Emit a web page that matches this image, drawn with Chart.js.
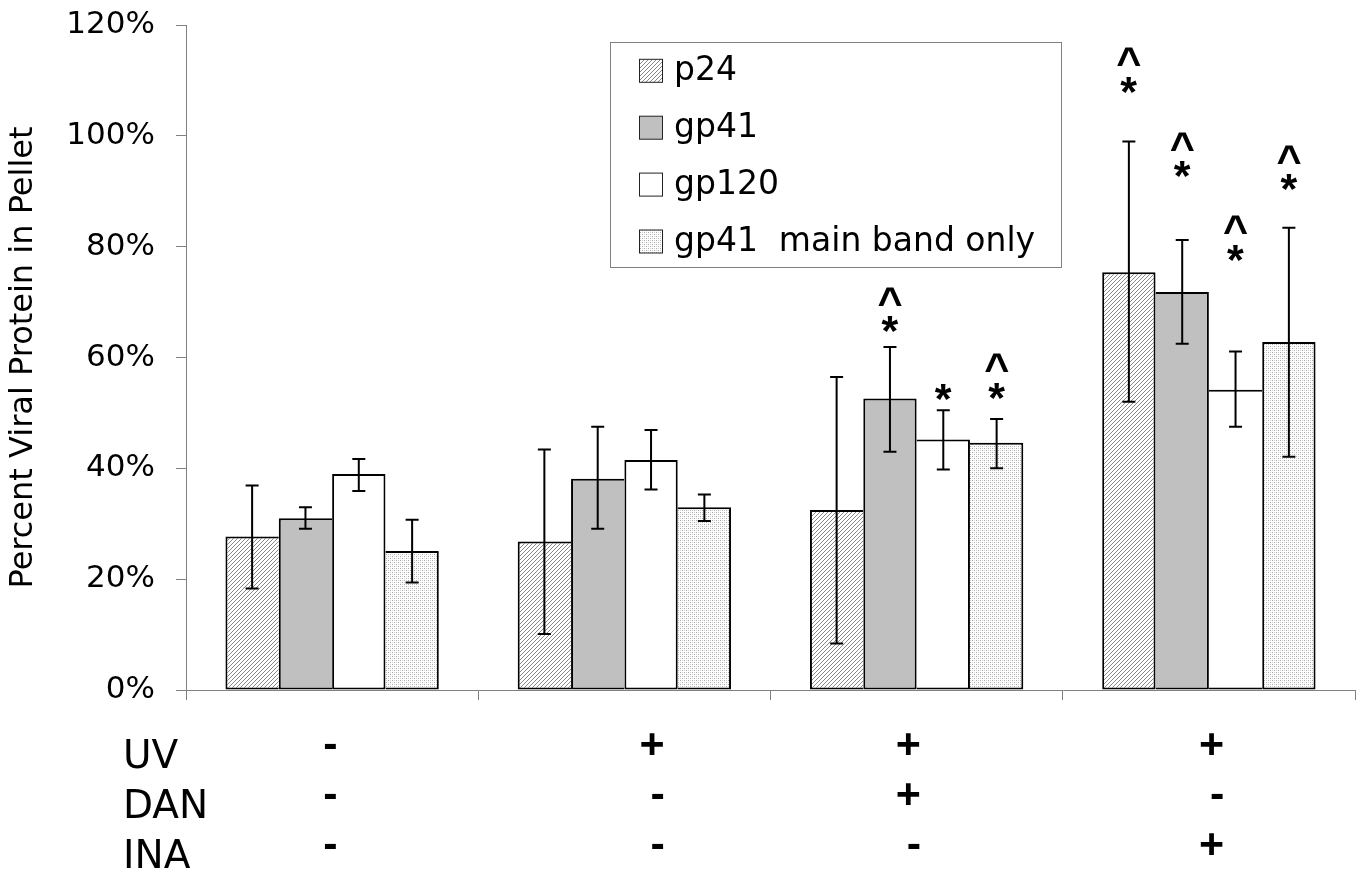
<!DOCTYPE html>
<html lang="en">
<head>
<meta charset="UTF-8">
<title>Percent Viral Protein in Pellet</title>
<script src="https://cdn.jsdelivr.net/npm/chart.js"></script>
<style>
  body { margin: 0; background: #fff; }
  #wrap { width: 1361px; height: 875px; }
</style>
</head>
<body>
<div id="wrap"><canvas id="chart" width="1361" height="875"></canvas></div>
<script>
// four treatment conditions (see the UV / DAN / INA table under the axis)
const conditions = ['UV- DAN- INA-', 'UV+ DAN- INA-', 'UV+ DAN+ INA-', 'UV+ DAN- INA+'];
const seriesNames = ['p24', 'gp41', 'gp120', 'gp41  main band only'];

// percent of viral protein found in pellet, with error bar ends
const p24      = [27.7, 26.8, 32.5, 75.4];
const p24Lo    = [18.3, 10.1,  8.4, 52.0];
const p24Hi    = [36.9, 43.4, 56.5, 99.0];
const gp41     = [31.0, 38.1, 52.6, 71.8];
const gp41Lo   = [29.1, 29.1, 43.0, 62.5];
const gp41Hi   = [33.0, 47.5, 61.9, 81.2];
const gp120    = [39.0, 41.5, 45.2, 54.2];
const gp120Lo  = [35.9, 36.2, 39.8, 47.5];
const gp120Hi  = [41.7, 46.9, 50.5, 61.1];
const gp41m    = [25.1, 33.0, 44.6, 62.8];
const gp41mLo  = [19.4, 30.5, 40.0, 42.1];
const gp41mHi  = [30.7, 35.3, 48.9, 83.4];

// significance marks and the level (%) where the * sits
const p24Mark    = ['', '', '', '^*'];
const p24MarkAt  = [null, null, null, 109.2];
const gp41Mark   = ['', '', '^*', '^*'];
const gp41MarkAt = [null, null, 66.0, 94.0];
const gp120Mark  = ['', '', '*', '^*'];
const gp120MarkAt = [null, null, 53.7, 78.9];
const gp41mMark  = ['', '', '^*', '^*'];
const gp41mMarkAt = [null, null, 54.0, 91.6];

// condition table
const rowNames = ['UV', 'DAN', 'INA'];
const uvSigns  = ['-', '+', '+', '+'];
const danSigns = ['-', '-', '+', '-'];
const inaSigns = ['-', '-', '-', '+'];

const yTicks = [0, 20, 40, 60, 80, 100, 120];

// ---- fill patterns ----
function hatchPattern() {
    const c = document.createElement('canvas');
    c.width = 4; c.height = 4;
    const g = c.getContext('2d');
    g.fillStyle = '#fff';
    g.fillRect(0, 0, 4, 4);
    g.strokeStyle = '#7c7c7c';
    g.lineWidth = 0.9;
    g.beginPath();
    g.moveTo(-1, 5); g.lineTo(5, -1);
    g.moveTo(-1, 1); g.lineTo(1, -1);
    g.moveTo(3, 5); g.lineTo(5, 3);
    g.stroke();
    return g.createPattern(c, 'repeat');
}
function dotPattern() {
    const c = document.createElement('canvas');
    c.width = 4; c.height = 4;
    const g = c.getContext('2d');
    g.fillStyle = '#fff';
    g.fillRect(0, 0, 4, 4);
    g.fillStyle = '#a8a8a8';
    g.fillRect(0, 0, 1, 1); g.fillRect(2, 2, 1, 1);
    g.fillStyle = '#d6d6d6';
    g.fillRect(2, 0, 1, 1); g.fillRect(0, 2, 1, 1);
    return g.createPattern(c, 'repeat');
}

const fills = [hatchPattern(), '#c0c0c0', '#ffffff', dotPattern()];
const values = [p24, gp41, gp120, gp41m];
const lows = [p24Lo, gp41Lo, gp120Lo, gp41mLo];
const highs = [p24Hi, gp41Hi, gp120Hi, gp41mHi];
const marks = [p24Mark, gp41Mark, gp120Mark, gp41mMark];
const markAt = [p24MarkAt, gp41MarkAt, gp120MarkAt, gp41mMarkAt];

const FONT = 'DejaVu Sans';
const SYM = 'bold 43px "Liberation Sans"';

// the taller of two touching bars draws the shared edge, so it stays 2px
function edgeWidths(c) {
    const d = c.datasetIndex, i = c.dataIndex, v = values[d][i];
    const n = values.length;
    return {
        top: 2, bottom: 2,
        left: (d === 0 || v > values[d - 1][i]) ? 2 : 0,
        right: (d === n - 1 || v >= values[d + 1][i]) ? 2 : 0
    };
}

// draws glyph with its visible box centred on (x, y)
function centreGlyph(ctx, s, x, y) {
    const m = ctx.measureText(s);
    const w = m.actualBoundingBoxRight + m.actualBoundingBoxLeft;
    ctx.fillText(s, x - w / 2 + m.actualBoundingBoxLeft,
        y + (m.actualBoundingBoxAscent - m.actualBoundingBoxDescent) / 2);
}

const errorBars = {
    id: 'errorBars',
    afterDatasetsDraw(chart) {
        const ctx = chart.ctx, ys = chart.scales.y;
        ctx.save();
        ctx.strokeStyle = '#000';
        ctx.lineWidth = 2;
        chart.data.datasets.forEach((ds, d) => {
            chart.getDatasetMeta(d).data.forEach((bar, i) => {
                const yl = ys.getPixelForValue(lows[d][i]);
                const yh = ys.getPixelForValue(highs[d][i]);
                ctx.beginPath();
                ctx.moveTo(bar.x, yl); ctx.lineTo(bar.x, yh);
                ctx.moveTo(bar.x - 6.5, yl); ctx.lineTo(bar.x + 6.5, yl);
                ctx.moveTo(bar.x - 6.5, yh); ctx.lineTo(bar.x + 6.5, yh);
                ctx.stroke();
            });
        });
        ctx.restore();
    }
};

const sigMarks = {
    id: 'sigMarks',
    afterDatasetsDraw(chart) {
        const ctx = chart.ctx, ys = chart.scales.y;
        ctx.save();
        ctx.fillStyle = '#000';
        ctx.font = SYM;
        chart.data.datasets.forEach((ds, d) => {
            chart.getDatasetMeta(d).data.forEach((bar, i) => {
                const m = marks[d][i];
                if (!m) return;
                const y = ys.getPixelForValue(markAt[d][i]);
                centreGlyph(ctx, '*', bar.x, y);
                if (m.indexOf('^') >= 0) centreGlyph(ctx, '^', bar.x, y - 28);
            });
        });
        ctx.restore();
    }
};

const boxLegend = {
    id: 'boxLegend',
    afterDraw(chart) {
        const ctx = chart.ctx;
        const left = 610.5, top = 42.5, w = 451, h = 225;
        ctx.save();
        ctx.fillStyle = '#fff';
        ctx.fillRect(left, top, w, h);
        ctx.strokeStyle = '#808080';
        ctx.lineWidth = 1;
        ctx.strokeRect(left, top, w, h);
        ctx.font = '33px "' + FONT + '"';
        ctx.textBaseline = 'middle';
        chart.data.datasets.forEach((ds, k) => {
            const cy = top + 28.3 + k * 56.9;
            ctx.fillStyle = ds.backgroundColor;
            ctx.fillRect(639.5, cy - 11.5, 23, 23);
            ctx.strokeStyle = '#222';
            ctx.strokeRect(639.5, cy - 11.5, 23, 23);
            ctx.fillStyle = '#000';
            ctx.fillText(ds.label, 674, cy + 1);
        });
        ctx.restore();
    }
};

const conditionTable = {
    id: 'conditionTable',
    afterDraw(chart) {
        const ctx = chart.ctx, xs = chart.scales.x;
        const rowY = [744, 794, 844];
        const signs = [uvSigns, danSigns, inaSigns];
        const nudge = [4, 39, 3, 14];   // right edge of the signs, from the group centre
        ctx.save();
        ctx.fillStyle = '#000';
        ctx.font = '39px "' + FONT + '"';
        ctx.textBaseline = 'middle';
        rowNames.forEach((r, k) => ctx.fillText(r, 123, rowY[k] + 14));
        ctx.font = SYM;
        ctx.textBaseline = 'alphabetic';
        const pm = ctx.measureText('+');
        const lift = (pm.actualBoundingBoxAscent - pm.actualBoundingBoxDescent) / 2;
        signs.forEach((row, k) => {
            row.forEach((s, i) => {
                const m = ctx.measureText(s);
                const right = xs.getPixelForValue(i) + nudge[i];
                ctx.fillText(s, right - m.actualBoundingBoxRight, rowY[k] + lift);
            });
        });
        ctx.restore();
    }
};

const ctx = document.getElementById('chart').getContext('2d');
new Chart(ctx, {
    type: 'bar',
    data: {
        labels: conditions,
        datasets: seriesNames.map((name, k) => ({
            label: name,
            data: values[k],
            backgroundColor: fills[k],
            borderColor: '#000',
            borderWidth: edgeWidths,
            borderSkipped: false,
            barPercentage: 1,
            categoryPercentage: 0.73
        }))
    },
    options: {
        responsive: false,
        animation: false,
        layout: { padding: { top: 25, right: 6, left: 0, bottom: 0 } },
        plugins: {
            legend: { display: false },
            tooltip: { enabled: false }
        },
        scales: {
            x: {
                ticks: { display: false },
                grid: { drawOnChartArea: false, offset: true, tickLength: 10, color: '#808080' },
                border: { color: '#808080' },
                afterFit: s => { s.height = 185; }
            },
            y: {
                min: 0,
                max: 120,
                afterBuildTicks: s => { s.ticks = yTicks.map(v => ({ value: v })); },
                ticks: {
                    callback: v => v + '%',
                    color: '#000',
                    padding: 21,
                    font: { family: FONT, size: 31 }
                },
                grid: { drawOnChartArea: false, tickLength: 10, color: '#808080' },
                border: { color: '#808080' },
                title: {
                    display: true,
                    text: 'Percent Viral Protein in Pellet',
                    color: '#000',
                    font: { family: FONT, size: 32 },
                    padding: { top: 4, bottom: 0 }
                },
                afterFit: s => {
                    s.width = 186;
                    s.paddingTop = 0;
                    s.paddingBottom = 0;
                }
            }
        }
    },
    plugins: [errorBars, sigMarks, boxLegend, conditionTable]
});
</script>
</body>
</html>
